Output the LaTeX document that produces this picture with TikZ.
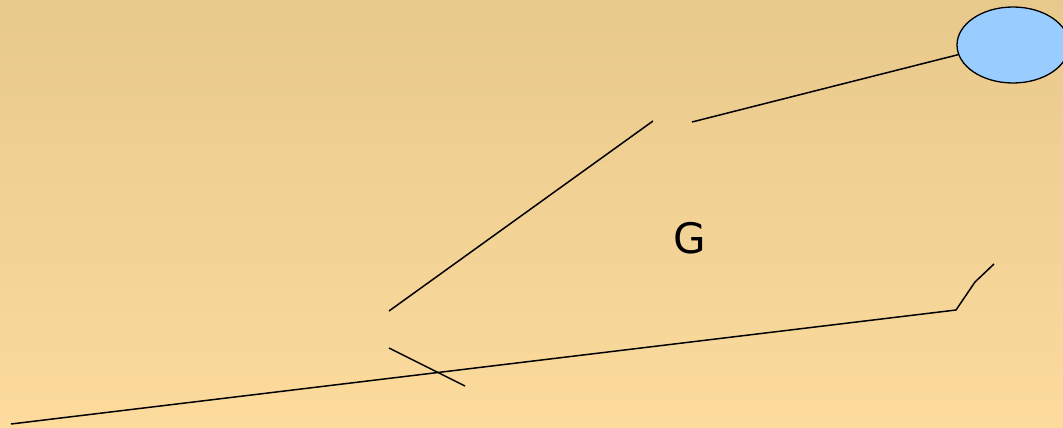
\documentclass[tikz,border=0pt]{standalone}
\usepackage{fontspec}
\setsansfont{DejaVu Sans}
\usetikzlibrary{shapes.geometric, positioning}
\definecolor{bgtop}{RGB}{232,201,140}
\definecolor{bgbottom}{RGB}{252,219,157}
\definecolor{blobblue}{RGB}{153,204,255}
\tikzset{
  stroke/.style={draw=black, line width=1.5pt},
  blob/.style={ellipse, draw=black, line width=1.3pt, fill=blobblue,
    minimum width=112pt, minimum height=76pt, inner sep=0pt},
  biglabel/.style={font=\sffamily\fontsize{42}{50}\selectfont, inner sep=0pt}
}

\begin{document}
\begin{tikzpicture}[x=1pt, y=-1pt]
        % background
        \shade[top color=bgtop, bottom color=bgbottom] (0,0) rectangle (1063,428);
        \useasboundingbox (0,0) rectangle (1063,428);

        \node[blob] (oval) at (1013,45) {};
        \node[biglabel] (glabel) at (690,238) {G};

        \coordinate (gapright) at (692,122);
        \coordinate (gapleft) at (653,121);
        \coordinate (lowleft) at (389,311);
        \coordinate (crossa) at (389,348);
        \coordinate (crossb) at (465,386);
        \coordinate (farleft) at (11,424);
        \coordinate (bend) at (956,310);
        \coordinate (knee) at (975,282);
        \coordinate (tip) at (994,264);

        \draw[stroke] (gapright) -- (oval.190);
        \draw[stroke] (gapleft) -- (lowleft);
        \draw[stroke] (crossa) -- (crossb);
        \draw[stroke] (farleft) -- (bend) -- (knee) -- (tip);
    \end{tikzpicture}
\end{document}
